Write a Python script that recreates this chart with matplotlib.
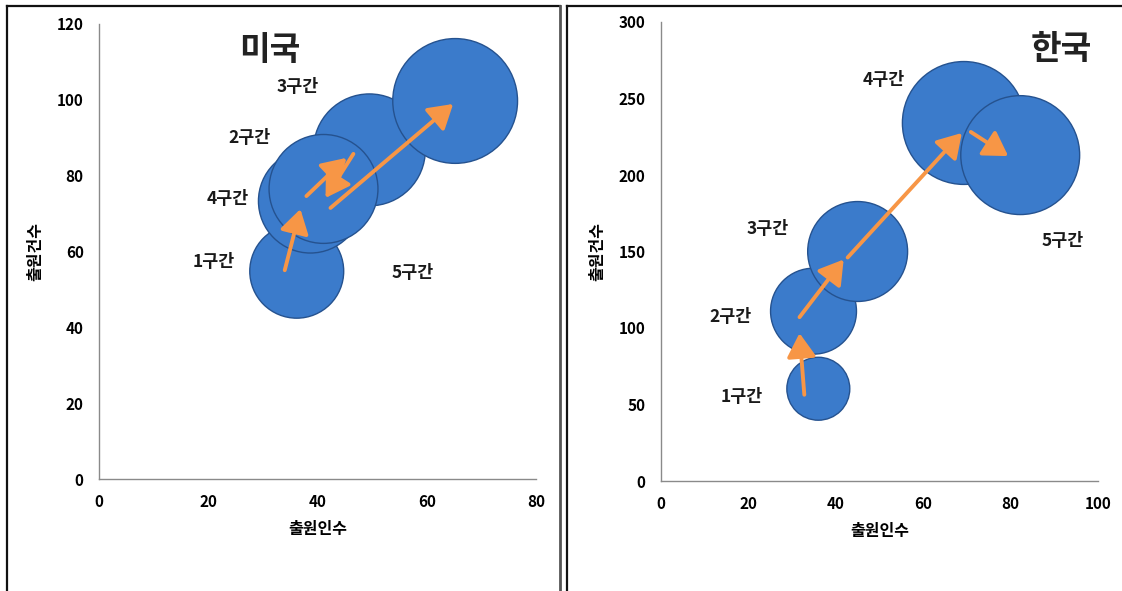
"""Bubble charts: applicants vs. applications by period, US (left) and Korea (right)."""

import numpy as np
import matplotlib.pyplot as plt
from matplotlib.lines import Line2D

plt.rcParams["font.family"] = ["Noto Sans CJK KR", "DejaVu Sans"]

PERIODS = ["1구간", "2구간", "3구간", "4구간", "5구간"]

# US: applicants (x), applications (y), bubble size
US_X = [36.2, 38.7, 49.5, 41.1, 65.2]
US_Y = [54.8, 73.3, 86.8, 76.5, 99.7]
US_SIZE = [2209, 2704, 3136, 2970, 3900]

# Korea
KR_X = [36.0, 34.9, 45.0, 69.3, 82.2]
KR_Y = [60.3, 111.0, 150.0, 234.0, 213.0]
KR_SIZE = [992, 1849, 2500, 3782, 3540]

# where the period labels sit (data coords, as placed in the original)
US_LABEL_POS = [(21.0, 57.2), (27.6, 90.0), (36.4, 103.4), (23.6, 73.8), (57.5, 54.3)]
KR_LABEL_POS = [(18.5, 55.0), (15.8, 107.0), (24.5, 165.0), (51.0, 262.0), (92.0, 157.0)]

# hand-placed arrow nudges in pixels (image coords, y down): start, tip
US_ARROW_NUDGE = [((-12, -1), (-10, 8)), ((-4, -5), (-23, 8)),
                  ((-16, 4), (2, 9)), ((7, 19), (-2, 3))]
KR_ARROW_NUDGE = [((-14, 6), (-14, 22)), ((-14, 6), (-14, 8)),
                  ((-10, 6), (-2, 10)), ((7, 9), (-12, 1))]

BLUE = "#3B7BCB"
EDGE = "#25528F"
ORANGE = "#F79646"
SIZE_SCALE = 2.07  # bubble size -> marker area (pt^2)


def draw_arrows(ax, xs, ys, nudges):
    to_px = ax.transData
    from_px = ax.transData.inverted()
    pts = to_px.transform(np.column_stack([xs, ys]))
    for i, (na, nb) in enumerate(nudges):
        a = pts[i] + np.array([na[0], -na[1]])
        b = pts[i + 1] + np.array([nb[0], -nb[1]])
        sa, sb = from_px.transform([a, b])
        ax.annotate(
            "", xy=sb, xytext=sa,
            arrowprops=dict(arrowstyle="-|>,head_length=0.9,head_width=0.55",
                            color=ORANGE, lw=2.8, shrinkA=0, shrinkB=0,
                            mutation_scale=16),
            zorder=5,
        )


def panel(ax, xs, ys, sizes, label_pos, nudges, title, title_pos, xmax, ymax, ystep):
    ax.set_xlim(0, xmax)
    ax.set_ylim(0, ymax)
    ax.scatter(xs, ys, s=[v * SIZE_SCALE for v in sizes], facecolor=BLUE,
               edgecolor=EDGE, linewidth=1.0, zorder=3, clip_on=False)
    draw_arrows(ax, xs, ys, nudges)

    for name, (lx, ly) in zip(PERIODS, label_pos):
        ax.text(lx, ly, name, ha="center", va="center", fontsize=12.5,
                fontweight="bold", color="#1a1a1a", zorder=6)
    ax.text(title_pos[0], title_pos[1], title, ha="center", va="center",
            fontsize=24, fontweight="bold", color="#222222", zorder=6)

    ax.set_xticks(np.arange(0, xmax + 1, 20))
    ax.set_yticks(np.arange(0, ymax + 1, ystep))
    ax.tick_params(length=0, labelsize=11, pad=11)
    for lab in ax.get_xticklabels() + ax.get_yticklabels():
        lab.set_fontweight("bold")
    ax.set_xlabel("출원인수", fontsize=11.5, fontweight="bold", labelpad=8)
    ax.set_ylabel("출원건수", fontsize=11.5, fontweight="bold", labelpad=10)

    ax.spines["top"].set_visible(False)
    ax.spines["right"].set_visible(False)
    for s in ("left", "bottom"):
        ax.spines[s].set_color("#8a8a8a")
        ax.spines[s].set_linewidth(1.0)


def main():
    W, H = 1122, 591
    fig = plt.figure(figsize=(W / 100, H / 100), dpi=100)

    ax1 = fig.add_axes([99 / W, 1 - 479 / H, 437 / W, 455 / H])
    ax2 = fig.add_axes([661 / W, 1 - 481 / H, 437 / W, 459 / H])

    panel(ax1, US_X, US_Y, US_SIZE, US_LABEL_POS, US_ARROW_NUDGE,
          "미국", (31.3, 113), 80, 120, 20)
    panel(ax2, KR_X, KR_Y, KR_SIZE, KR_LABEL_POS, KR_ARROW_NUDGE,
          "한국", (91.5, 282), 100, 300, 50)

    # panel frames
    def fline(xp, yp, color="#111111", lw=1.6):
        fig.add_artist(Line2D([x / W for x in xp], [1 - y / H for y in yp],
                              color=color, lw=lw, transform=fig.transFigure))

    fline([7, 7], [6, H])
    fline([7, 560], [6, 6])
    fline([560, 560], [6, H], color="#555555", lw=2.0)
    fline([567, 567], [6, H])
    fline([567, W], [6, 6])

    fig.savefig("out.png", dpi=100)


if __name__ == "__main__":
    main()
